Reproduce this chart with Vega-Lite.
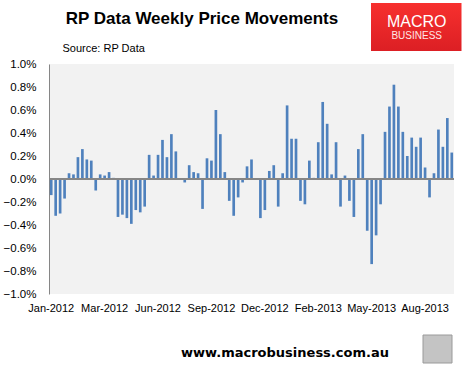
{
  "$schema": "https://vega.github.io/schema/vega-lite/v6.json",
  "autosize": {"type": "none"},
  "width": 405,
  "height": 230,
  "padding": {"left": 49, "top": 64, "right": 14, "bottom": 76},
  "background": "white",
  "config": {
    "view": {"fill": "#f2f2f2", "stroke": null},
    "font": "Liberation Sans",
    "axis": {"labelOverlap": false, "labelFlush": false},
    "axisY": {"labelOverlap": false}
  },
  "data": {"values": [
    {"week": "2012-01-01", "change": -0.14},
    {"week": "2012-01-08", "change": -0.32},
    {"week": "2012-01-15", "change": -0.30},
    {"week": "2012-01-22", "change": -0.17},
    {"week": "2012-01-29", "change": 0.05},
    {"week": "2012-02-05", "change": 0.04},
    {"week": "2012-02-12", "change": 0.19},
    {"week": "2012-02-19", "change": 0.26},
    {"week": "2012-02-26", "change": 0.17},
    {"week": "2012-03-04", "change": 0.16},
    {"week": "2012-03-11", "change": -0.10},
    {"week": "2012-03-18", "change": 0.04},
    {"week": "2012-03-25", "change": 0.03},
    {"week": "2012-04-01", "change": 0.06},
    {"week": "2012-04-08", "change": 0.01},
    {"week": "2012-04-15", "change": -0.33},
    {"week": "2012-04-22", "change": -0.31},
    {"week": "2012-04-29", "change": -0.34},
    {"week": "2012-05-06", "change": -0.39},
    {"week": "2012-05-13", "change": -0.27},
    {"week": "2012-05-20", "change": -0.29},
    {"week": "2012-05-27", "change": -0.24},
    {"week": "2012-06-03", "change": 0.21},
    {"week": "2012-06-10", "change": 0.03},
    {"week": "2012-06-17", "change": 0.21},
    {"week": "2012-06-24", "change": 0.34},
    {"week": "2012-07-01", "change": 0.19},
    {"week": "2012-07-08", "change": 0.39},
    {"week": "2012-07-15", "change": 0.24},
    {"week": "2012-07-22", "change": 0.00},
    {"week": "2012-07-29", "change": -0.03},
    {"week": "2012-08-05", "change": 0.12},
    {"week": "2012-08-12", "change": 0.06},
    {"week": "2012-08-19", "change": 0.05},
    {"week": "2012-08-26", "change": -0.26},
    {"week": "2012-09-02", "change": 0.18},
    {"week": "2012-09-09", "change": 0.16},
    {"week": "2012-09-16", "change": 0.60},
    {"week": "2012-09-23", "change": 0.39},
    {"week": "2012-09-30", "change": 0.06},
    {"week": "2012-10-07", "change": -0.19},
    {"week": "2012-10-14", "change": -0.32},
    {"week": "2012-10-21", "change": -0.16},
    {"week": "2012-10-28", "change": -0.03},
    {"week": "2012-11-04", "change": 0.11},
    {"week": "2012-11-11", "change": 0.17},
    {"week": "2012-11-18", "change": 0.00},
    {"week": "2012-11-25", "change": -0.34},
    {"week": "2012-12-02", "change": -0.27},
    {"week": "2012-12-09", "change": 0.07},
    {"week": "2012-12-16", "change": 0.12},
    {"week": "2012-12-23", "change": -0.24},
    {"week": "2012-12-30", "change": 0.05},
    {"week": "2013-01-06", "change": 0.64},
    {"week": "2013-01-13", "change": 0.35},
    {"week": "2013-01-20", "change": 0.35},
    {"week": "2013-01-27", "change": -0.19},
    {"week": "2013-02-03", "change": -0.22},
    {"week": "2013-02-10", "change": 0.16},
    {"week": "2013-02-17", "change": 0.01},
    {"week": "2013-02-24", "change": 0.32},
    {"week": "2013-03-03", "change": 0.67},
    {"week": "2013-03-10", "change": 0.48},
    {"week": "2013-03-17", "change": 0.04},
    {"week": "2013-03-24", "change": 0.32},
    {"week": "2013-03-31", "change": -0.24},
    {"week": "2013-04-07", "change": 0.03},
    {"week": "2013-04-14", "change": -0.19},
    {"week": "2013-04-21", "change": -0.33},
    {"week": "2013-04-28", "change": 0.26},
    {"week": "2013-05-05", "change": 0.39},
    {"week": "2013-05-12", "change": -0.45},
    {"week": "2013-05-19", "change": -0.74},
    {"week": "2013-05-26", "change": -0.49},
    {"week": "2013-06-02", "change": -0.22},
    {"week": "2013-06-09", "change": 0.41},
    {"week": "2013-06-16", "change": 0.63},
    {"week": "2013-06-23", "change": 0.82},
    {"week": "2013-06-30", "change": 0.63},
    {"week": "2013-07-07", "change": 0.41},
    {"week": "2013-07-14", "change": 0.20},
    {"week": "2013-07-21", "change": 0.36},
    {"week": "2013-07-28", "change": 0.28},
    {"week": "2013-08-04", "change": 0.36},
    {"week": "2013-08-11", "change": 0.10},
    {"week": "2013-08-18", "change": -0.16},
    {"week": "2013-08-25", "change": 0.05},
    {"week": "2013-09-01", "change": 0.43},
    {"week": "2013-09-08", "change": 0.28},
    {"week": "2013-09-15", "change": 0.53},
    {"week": "2013-09-22", "change": 0.23}
  ]},
  "layer": [
    {
      "mark": {"type": "bar", "color": "#4f81bd"},
      "encoding": {
        "x": {
          "field": "week", "type": "ordinal", "sort": null,
          "scale": {"paddingInner": 0.4, "paddingOuter": 0.2},
          "axis": {
            "title": null,
            "values": ["2012-01-01", "2012-03-25", "2012-06-17", "2012-09-09", "2012-12-02", "2013-02-24", "2013-05-19", "2013-08-11"],
            "labelExpr": "utcFormat(toDate(datum.value), '%b-%Y')",
            "labelAngle": 0,
            "labelOverlap": false,
            "domain": false,
            "ticks": false,
            "labelPadding": 8,
            "labelFontSize": 11,
            "labelColor": "#000000",
            "labelFont": "Liberation Sans"
          }
        },
        "y": {
          "field": "change", "type": "quantitative",
          "scale": {"domain": [-1, 1], "nice": false},
          "axis": {
            "title": null,
            "values": [-1, -0.8, -0.6, -0.4, -0.2, 0, 0.2, 0.4, 0.6, 0.8, 1],
            "labelExpr": "format(datum.value, '.1f') + '%'",
            "labelOverlap": false,
            "labelFlush": false,
            "grid": false,
            "ticks": false,
            "domain": true,
            "domainColor": "#868686",
            "domainWidth": 1,
            "labelPadding": 13,
            "labelFontSize": 11.5,
            "labelColor": "#000000",
            "labelFont": "Liberation Sans"
          }
        }
      }
    },
    {
      "mark": {"type": "rule", "color": "#868686", "strokeWidth": 2},
      "encoding": {
        "y": {
          "datum": 0, "type": "quantitative",
          "axis": {
            "title": null,
            "values": [-1, -0.8, -0.6, -0.4, -0.2, 0, 0.2, 0.4, 0.6, 0.8, 1],
            "labelExpr": "format(datum.value, '.1f') + '%'",
            "labelOverlap": false,
            "labelFlush": false,
            "grid": false,
            "ticks": false,
            "domain": true,
            "domainColor": "#868686",
            "domainWidth": 1,
            "labelPadding": 13,
            "labelFontSize": 11.5,
            "labelColor": "#000000",
            "labelFont": "Liberation Sans"
          }
        }
      }
    },
    {
      "data": {"values": [{}]},
      "mark": {"type": "text", "text": "RP Data Weekly Price Movements", "font": "Liberation Sans", "fontWeight": "bold", "fontSize": 17, "align": "center", "baseline": "alphabetic", "color": "#000000"},
      "encoding": {"x": {"value": 153}, "y": {"value": -40}}
    },
    {
      "data": {"values": [{}]},
      "mark": {"type": "text", "text": "Source: RP Data", "font": "Liberation Sans", "fontSize": 11, "align": "left", "baseline": "alphabetic", "color": "#000000"},
      "encoding": {"x": {"value": 13.5}, "y": {"value": -12.5}}
    },
    {
      "data": {"values": [{}]},
      "mark": {"type": "rect", "color": {"gradient": "linear", "x1": 0, "y1": 0, "x2": 0, "y2": 1, "stops": [{"offset": 0, "color": "#f7302e"}, {"offset": 1, "color": "#dc1f24"}]}},
      "encoding": {"x": {"value": 322}, "x2": {"value": 412.5}, "y": {"value": -61}, "y2": {"value": -13}}
    },
    {
      "data": {"values": [{}]},
      "mark": {"type": "text", "text": "MACRO", "font": "Liberation Sans", "fontSize": 16, "align": "center", "baseline": "alphabetic", "color": "#ffffff"},
      "encoding": {"x": {"value": 367.7}, "y": {"value": -37.5}}
    },
    {
      "data": {"values": [{}]},
      "mark": {"type": "text", "text": "BUSINESS", "font": "Liberation Sans", "fontSize": 10, "align": "center", "baseline": "alphabetic", "color": "#ffe6e6"},
      "encoding": {"x": {"value": 367.7}, "y": {"value": -25.5}}
    },
    {
      "data": {"values": [{}]},
      "mark": {"type": "text", "text": "www.macrobusiness.com.au", "font": "DejaVu Sans", "fontWeight": "bold", "fontSize": 13, "align": "center", "baseline": "alphabetic", "color": "#000000"},
      "encoding": {"x": {"value": 236}, "y": {"value": 292.7}}
    },
    {
      "data": {"values": [{}]},
      "mark": {"type": "rect", "color": "#c4c4c4", "stroke": "#9a9a9a", "strokeWidth": 1},
      "encoding": {"x": {"value": 374}, "x2": {"value": 403}, "y": {"value": 271}, "y2": {"value": 299}}
    }
  ]
}
